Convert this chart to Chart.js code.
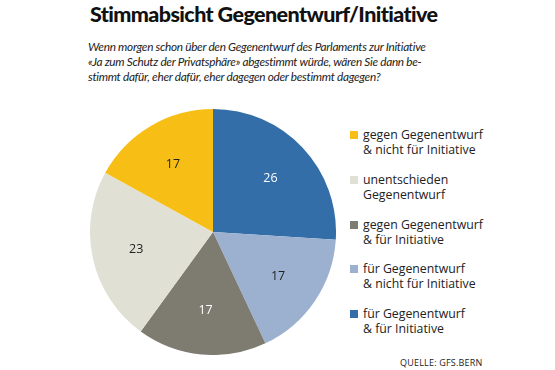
<!DOCTYPE html>
<html>
<head>
<meta charset="utf-8">
<script src="https://cdn.jsdelivr.net/npm/chart.js@4/dist/chart.umd.min.js"></script>
<style>
  body { margin: 0; background: #fff; font-family: "Open Sans", sans-serif; }
  #page { position: relative; width: 555px; height: 370px; overflow: hidden; }
  #title { position: absolute; left: 90px; top: 1px; white-space: nowrap;
           font-family: Lato, sans-serif; font-size: 21.5px; font-weight: 900; letter-spacing: -0.6px; color: #111; }
  #sub { position: absolute; left: 88px; top: 40px; white-space: nowrap; font-family: Lato, sans-serif;
         font-size: 11.8px; font-style: italic; letter-spacing: -0.3px; line-height: 14.8px; color: #222; }
  #pieBox { position: absolute; left: 90px; top: 109px; width: 246px; height: 246px; }
  #legend { position: absolute; left: 350px; top: 127px; }
  .item { position: relative; height: 44.8px; font-size: 12.3px; line-height: 15px; color: #222; }
  .sw { position: absolute; left: 0; top: 4px; width: 8px; height: 8px; }
  .txt { position: absolute; left: 13px; top: 0; white-space: nowrap; }
  #source { position: absolute; left: 400px; top: 356px; font-size: 9px; letter-spacing: 0.2px; color: #222; }
</style>
</head>
<body>
<div id="page">
  <div id="title">Stimmabsicht Gegenentwurf/Initiative</div>
  <div id="sub">Wenn morgen schon über den Gegenentwurf des Parlaments zur Initiative<br>«Ja zum Schutz der Privatsphäre» abgestimmt würde, wären Sie dann be-<br>stimmt dafür, eher dafür, eher dagegen oder bestimmt dagegen?</div>
  <div id="pieBox"><canvas id="pie"></canvas></div>
  <div id="legend"></div>
  <div id="source">QUELLE: GFS.BERN</div>
</div>
<script>
// slices in drawing order, clockwise from 12 o'clock
const categories = [
  ['für Gegenentwurf', '& für Initiative'],
  ['für Gegenentwurf', '& nicht für Initiative'],
  ['gegen Gegenentwurf', '& für Initiative'],
  ['unentschieden', 'Gegenentwurf'],
  ['gegen Gegenentwurf', '& nicht für Initiative']
];
const values = [26, 17, 17, 23, 17];
const colors = ['#346ea8', '#9cb0cf', '#7e7c71', '#e1e0d5', '#f7bf16'];
const labelColors = ['#ffffff', '#222222', '#ffffff', '#222222', '#222222'];

// legend lists the slices bottom-up
const legend = document.getElementById('legend');
for (let i = categories.length - 1; i >= 0; i--) {
  const d = document.createElement('div');
  d.className = 'item';
  d.innerHTML = '<div class="sw" style="background:' + colors[i] + '"></div><div class="txt">' +
    categories[i].join('<br>') + '</div>';
  legend.appendChild(d);
}

const sliceLabels = {
  id: 'sliceLabels',
  afterDatasetsDraw(chart) {
    const ctx = chart.ctx;
    const meta = chart.getDatasetMeta(0);
    ctx.save();
    ctx.font = '12.5px "Open Sans"';
    ctx.textAlign = 'center';
    ctx.textBaseline = 'middle';
    meta.data.forEach((arc, i) => {
      const p = arc.getProps(['x', 'y', 'startAngle', 'endAngle', 'outerRadius']);
      const mid = (p.startAngle + p.endAngle) / 2;
      const r = p.outerRadius * 0.64;
      ctx.fillStyle = labelColors[i];
      ctx.fillText(String(values[i]), p.x + Math.cos(mid) * r, p.y + Math.sin(mid) * r);
    });
    ctx.restore();
  }
};

new Chart(document.getElementById('pie'), {
  type: 'pie',
  data: {
    labels: categories.map(c => c.join(' ')),
    datasets: [{ data: values, backgroundColor: colors, borderWidth: 0 }]
  },
  options: {
    responsive: true,
    maintainAspectRatio: false,
    animation: false,
    layout: { padding: 0 },
    plugins: { legend: { display: false }, tooltip: { enabled: false } }
  },
  plugins: [sliceLabels]
});
</script>
</body>
</html>
